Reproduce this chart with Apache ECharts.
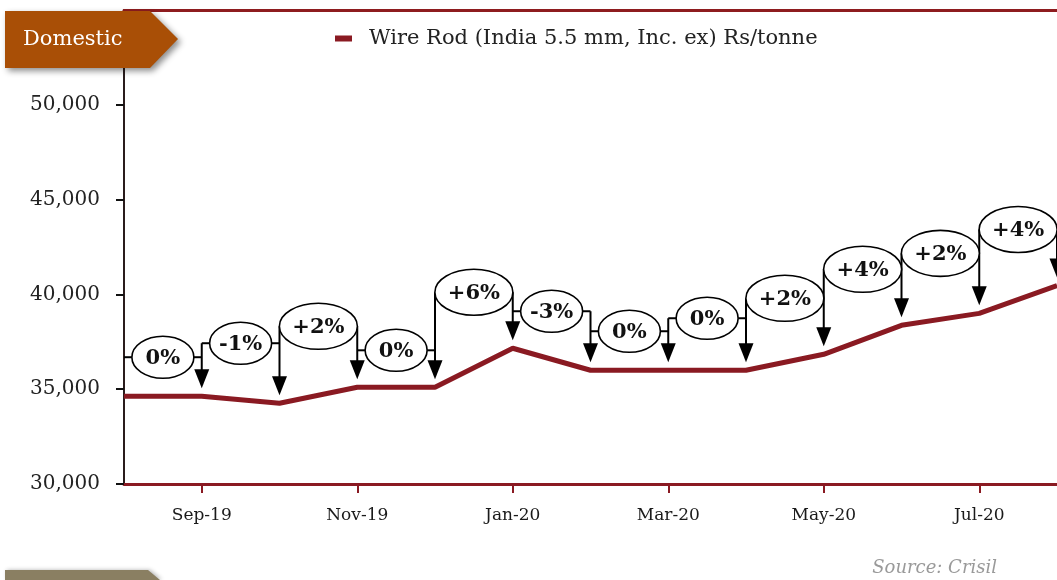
<!DOCTYPE html>
<html>
<head>
<meta charset="utf-8">
<script src="https://cdn.jsdelivr.net/npm/echarts@6/dist/echarts.min.js"></script>
<style>
  html, body { margin: 0; padding: 0; background: #fff; }
  #chart { width: 1057px; height: 580px; }
</style>
</head>
<body>
<div id="chart"></div>
<script>
// months on the x axis
const months = ['Aug-19', 'Sep-19', 'Oct-19', 'Nov-19', 'Dec-19', 'Jan-20', 'Feb-20',
  'Mar-20', 'Apr-20', 'May-20', 'Jun-20', 'Jul-20', 'Aug-20'];
// wire rod price, Rs/tonne
const prices = [34630, 34630, 34260, 35100, 35100, 37160, 36000,
  36000, 36000, 36840, 38370, 39000, 40470];
// month-on-month change shown in the bubbles (one per month from Sep-19)
const changeLabels = ['0%', '-1%', '+2%', '0%', '+6%', '-3%', '0%', '0%', '+2%', '+4%', '+2%', '+4%'];

const seriesName = 'Wire Rod (India 5.5 mm, Inc. ex) Rs/tonne';
const SERIF = '"DejaVu Serif", "Liberation Serif", serif';
const lineRed = '#8a1a22';

// how far (px) each bubble sits above its month's point
const calloutLift = [39, 60, 61, 37, 56, 59, 39, 52, 56, 56, 60, 56];

function renderCallout(params, api) {
  const i = api.value(0);
  const p = api.coord([i, prices[i]]);
  const prev = api.coord([i - 1, prices[i - 1]]);
  const cy = p[1] - calloutLift[i - 1];
  let top = cy;
  if (i + 1 < prices.length) {
    const n = api.coord([i + 1, prices[i + 1]]);
    top = Math.min(cy, n[1] - calloutLift[i]);
  }
  const label = changeLabels[i - 1];
  const big = label.charAt(0) === '+';
  const rx = big ? 39 : 31;
  const ry = big ? 23 : 21;
  const cx = (prev[0] + p[0]) / 2;
  const tipY = p[1] - 8;
  const stroke = { stroke: '#000', lineWidth: 2 };
  const kids = [];
  if (cx - rx > prev[0]) {
    kids.push({ type: 'line', shape: { x1: prev[0], y1: cy, x2: cx - rx, y2: cy }, style: stroke });
  }
  if (cx + rx < p[0]) {
    kids.push({ type: 'line', shape: { x1: cx + rx, y1: cy, x2: p[0], y2: cy }, style: stroke });
  }
  kids.push({ type: 'line', shape: { x1: p[0], y1: top, x2: p[0], y2: tipY - 15 }, style: stroke });
  kids.push({
    type: 'polygon',
    shape: { points: [[p[0] - 7.5, tipY - 19], [p[0] + 7.5, tipY - 19], [p[0], tipY]] },
    style: { fill: '#000' }
  });
  kids.push({
    type: 'ellipse',
    shape: { cx: cx, cy: cy, rx: rx, ry: ry },
    style: { fill: '#fff', stroke: '#000', lineWidth: 1.6 }
  });
  kids.push({
    type: 'text',
    style: {
      text: label, x: cx, y: cy + 1, align: 'center', verticalAlign: 'middle',
      font: 'bold 21px ' + SERIF, fill: '#111'
    }
  });
  return { type: 'group', children: kids };
}

const calloutData = [];
for (let i = 1; i < prices.length; i++) calloutData.push([i, prices[i]]);

const everyOther = function (idx) { return idx % 2 === 1; };

const chart = echarts.init(document.getElementById('chart'));
chart.setOption({
  animation: false,
  backgroundColor: '#fff',
  grid: { left: 124, right: -2, top: 10, bottom: 96, containLabel: false },
  legend: {
    data: [seriesName],
    left: 330,
    top: 23,
    itemWidth: 17,
    itemHeight: 6,
    icon: 'rect',
    textStyle: { fontFamily: SERIF, fontSize: 21, color: '#222', padding: [0, 0, 0, 12] }
  },
  xAxis: [{
    type: 'category',
    data: months,
    boundaryGap: false,
    axisLine: { lineStyle: { color: lineRed, width: 3 } },
    axisTick: { interval: everyOther, length: 9, lineStyle: { color: lineRed, width: 2 } },
    axisLabel: { interval: everyOther, margin: 23, fontFamily: SERIF, fontSize: 17, color: '#1a1a1a' },
    splitLine: { show: false }
  }, {
    type: 'category',
    data: months,
    position: 'top',
    boundaryGap: false,
    axisLine: { lineStyle: { color: '#8e1c1f', width: 3 } },
    axisTick: { show: false },
    axisLabel: { show: false }
  }],
  yAxis: {
    type: 'value',
    min: 30000,
    max: 55000,
    interval: 5000,
    axisLine: { show: true, lineStyle: { color: '#2a1c1c', width: 2 } },
    axisTick: { show: true, length: 8, lineStyle: { color: '#111', width: 2 } },
    axisLabel: { showMaxLabel: false, margin: 24, fontFamily: SERIF, fontSize: 20, color: '#222' },
    splitLine: { show: false }
  },
  series: [{
    name: seriesName,
    type: 'line',
    data: prices,
    symbol: 'none',
    lineStyle: { color: lineRed, width: 5 },
    itemStyle: { color: lineRed },
    z: 3
  }, {
    name: 'callouts',
    type: 'custom',
    data: calloutData,
    renderItem: renderCallout,
    encode: { x: 0, y: 1 },
    clip: false,
    silent: true,
    z: 4
  }],
  graphic: [{
    type: 'polygon',
    z: 100,
    shape: { points: [[5, 11], [150, 11], [178, 39], [150, 68], [5, 68]] },
    style: { fill: '#a94f06', shadowBlur: 6, shadowColor: 'rgba(0,0,0,0.45)', shadowOffsetX: 3, shadowOffsetY: 3 }
  }, {
    type: 'text',
    z: 101,
    left: 23,
    top: 29,
    style: { text: 'Domestic', font: '21px ' + SERIF, fill: '#fff' }
  }, {
    type: 'polygon',
    z: 100,
    shape: { points: [[5, 570], [148, 570], [160, 580], [5, 580]] },
    style: { fill: '#8a7f62', shadowBlur: 4, shadowColor: 'rgba(0,0,0,0.3)', shadowOffsetX: 2, shadowOffsetY: 0 }
  }, {
    type: 'text',
    z: 100,
    right: 60,
    top: 559,
    style: { text: 'Source: Crisil', font: 'italic 18px ' + SERIF, fill: '#9a9a9a' }
  }]
});
</script>
</body>
</html>
